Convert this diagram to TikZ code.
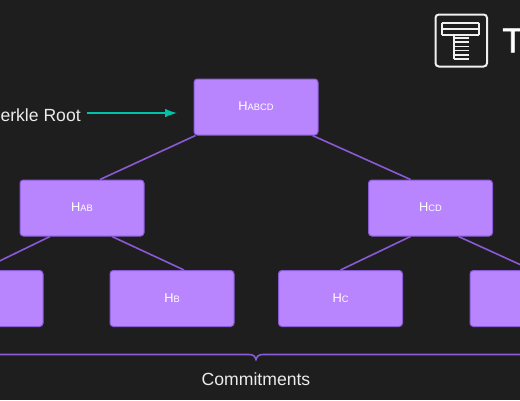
\documentclass[tikz,border=0pt]{standalone}
\usepackage{fontspec}
\setmainfont{Liberation Sans}
\newfontfamily\logofont[FakeBold=1.5]{Liberation Sans}
\usetikzlibrary{calc,arrows.meta}
\definecolor{bgc}{HTML}{1E1E1E}
\definecolor{boxc}{HTML}{B985FF}
\definecolor{edgec}{HTML}{8A5AD6}
\definecolor{tealc}{HTML}{00C2A8}
\definecolor{logoc}{HTML}{F0F0F0}
\newcommand{\hashlabel}[2]{\raisebox{1pt}{\fontsize{9.6}{11}\selectfont #1\fontsize{7}{8}\selectfont #2}}
\tikzset{
  x=0.75pt,y=-0.75pt,
  hashbox/.style={draw=edgec,line width=0.75pt,fill=boxc,rounded corners=2.5pt,minimum width=93pt,minimum height=42pt,inner sep=0pt,text=white,anchor=center},
  tree/.style={draw=edgec,line width=1.2pt},
  labeltext/.style={text=white!92!black,font=\fontsize{13.2}{15}\selectfont,inner sep=0pt},
  logoline/.style={draw=logoc,line width=1.2pt},
}
\begin{document}
\begin{tikzpicture}
\useasboundingbox (0,0) rectangle (520,400);
\clip (0,0) rectangle (520,400);
\fill[bgc] (0,0) rectangle (520,400);
\node[hashbox] (root) at (256,107) {\hashlabel{H}{ABCD}};
\node[hashbox] (hab) at (82,208) {\hashlabel{H}{AB}};
\node[hashbox] (hcd) at (430.5,208) {\hashlabel{H}{CD}};
\node[hashbox] (ha) at (-19,298.5) {};
\node[hashbox] (hb) at (172,298.5) {\hashlabel{H}{B}};
\node[hashbox] (hc) at (340.5,298.5) {\hashlabel{H}{C}};
\node[hashbox] (hd) at (532,298.5) {};
\draw[tree] ($(root.south west)+(2,0)$) -- ($(hab.north)+(18,0)$);
\draw[tree] ($(root.south east)+(-6,0)$) -- ($(hcd.north)+(-20,0)$);
\draw[tree] ($(hab.south)+(-32,0)$) -- (ha.north);
\draw[tree] ($(hab.south)+(30,0)$) -- ($(hb.north)+(12,0)$);
\draw[tree] ($(hcd.south)+(-20,0)$) -- (hc.north);
\draw[tree] ($(hcd.south)+(28,0)$) -- (hd.north);
% Merkle root label and arrow
\node[labeltext,anchor=east] (mr) at (81,115) {Merkle Root};
\coordinate (arrowstart) at (87,113);
\coordinate (arrowend) at (177,113);
\draw[tealc,line width=1.1pt,-{Latex[length=9pt,width=6.5pt]}] (arrowstart) -- (arrowend);
% bracket
\coordinate (bl) at (-10,354.5);
\coordinate (br) at (530,354.5);
\coordinate (bm) at (256,359.5);
\draw[tree] (bl) -- (249,354.5) .. controls (253,354.5) and (255,356) .. (bm) .. controls (257,356) and (259,354.5) .. (263,354.5) -- (br);
\node[labeltext] (commit) at (256,379.5) {Commitments};
% logo
\draw[draw=logoc,line width=1.5pt,rounded corners=2.5pt] (435.5,14.5) rectangle (487,66.5);
\foreach \yy in {23,29,35} {\draw[logoline,line width=1.3pt] (442,\yy) -- (479,\yy);}
\draw[logoline] (442,23) -- (442,35);
\draw[logoline] (479,23) -- (479,35);
\foreach \yy in {38,42.2,46.4,50.6,54.8,59} {\draw[logoline] (454,\yy) -- (469,\yy);}
\draw[logoline] (454,35) -- (454,59);
\node[text=white,font=\logofont\fontsize{26}{30}\selectfont,anchor=west,inner sep=0pt] (logot) at (502,40.5) {T};
\end{tikzpicture}
\end{document}
